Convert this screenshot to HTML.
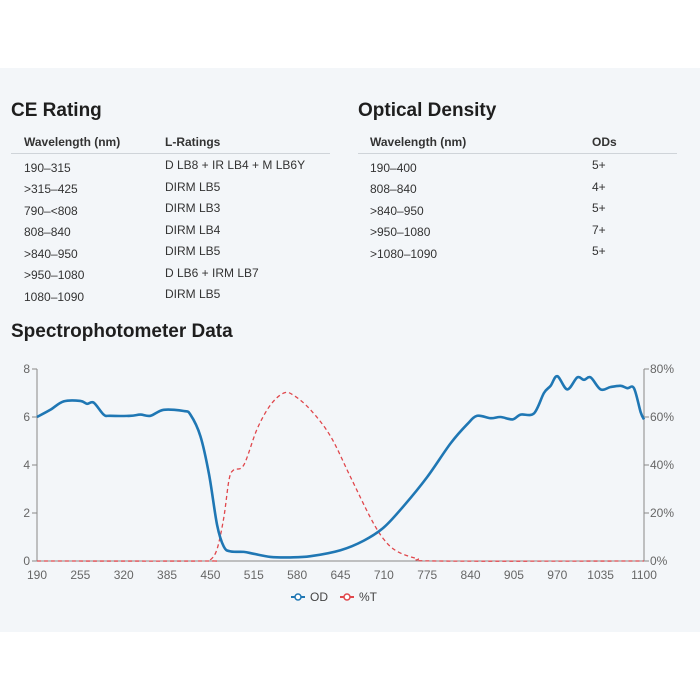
<!DOCTYPE html>
<html><head><meta charset="utf-8"><style>
body{margin:0;width:700px;height:700px;background:#fff;position:relative;overflow:hidden;font-family:"Liberation Sans",sans-serif;color:#222}
#bg{position:absolute;left:0;top:68px;width:700px;height:564px;background:#f3f6f9}
.t{position:absolute;white-space:nowrap}
h2{position:absolute;margin:0;font-size:19px;font-weight:bold;color:#1e1e1e;white-space:nowrap}
.h{font-size:12px;font-weight:bold;color:#333}
.r{font-size:12px;color:#333}
.ln{position:absolute;height:1px;background:#cfd4d9}
</style></head><body>
<div id="bg"></div>
<h2 style="left:11px;top:100px">CE Rating</h2>
<div class="t h" style="left:24px;top:135px">Wavelength (nm)</div>
<div class="t h" style="left:165px;top:135px">L-Ratings</div>
<div class="ln" style="left:11px;top:153px;width:319px"></div>
<div class="t r" style="left:24px;top:161px">190–315</div><div class="t r" style="left:165px;top:158px">D LB8 + IR LB4 + M LB6Y</div>
<div class="t r" style="left:24px;top:182px">&gt;315–425</div><div class="t r" style="left:165px;top:180px">DIRM LB5</div>
<div class="t r" style="left:24px;top:204px">790–&lt;808</div><div class="t r" style="left:165px;top:201px">DIRM LB3</div>
<div class="t r" style="left:24px;top:225px">808–840</div><div class="t r" style="left:165px;top:223px">DIRM LB4</div>
<div class="t r" style="left:24px;top:247px">&gt;840–950</div><div class="t r" style="left:165px;top:244px">DIRM LB5</div>
<div class="t r" style="left:24px;top:268px">&gt;950–1080</div><div class="t r" style="left:165px;top:266px">D LB6 + IRM LB7</div>
<div class="t r" style="left:24px;top:290px">1080–1090</div><div class="t r" style="left:165px;top:287px">DIRM LB5</div>

<h2 style="left:358px;top:100px">Optical Density</h2>
<div class="t h" style="left:370px;top:135px">Wavelength (nm)</div>
<div class="t h" style="left:592px;top:135px">ODs</div>
<div class="ln" style="left:358px;top:153px;width:319px"></div>
<div class="t r" style="left:370px;top:161px">190–400</div><div class="t r" style="left:592px;top:158px">5+</div>
<div class="t r" style="left:370px;top:182px">808–840</div><div class="t r" style="left:592px;top:180px">4+</div>
<div class="t r" style="left:370px;top:204px">&gt;840–950</div><div class="t r" style="left:592px;top:201px">5+</div>
<div class="t r" style="left:370px;top:225px">&gt;950–1080</div><div class="t r" style="left:592px;top:223px">7+</div>
<div class="t r" style="left:370px;top:247px">&gt;1080–1090</div><div class="t r" style="left:592px;top:244px">5+</div>

<h2 style="left:11px;top:321px">Spectrophotometer Data</h2>
<svg id="c" width="700" height="700" style="position:absolute;left:0;top:0" font-family="Liberation Sans, sans-serif" font-size="12" fill="#666"></svg>
<script>
const X=n=>37+(n-190)*607/910, Y=o=>561-24*o, YT=p=>561-2.4*p;
let s='';
s+='<line x1="37" y1="369" x2="37" y2="561" stroke="#888"/><line x1="644" y1="369" x2="644" y2="561" stroke="#888"/><line x1="37" y1="561" x2="644" y2="561" stroke="#888"/>';
for(let i=0;i<=4;i++){let y=561-48*i;s+=`<line x1="32" y1="${y}" x2="37" y2="${y}" stroke="#888"/><line x1="644" y1="${y}" x2="649" y2="${y}" stroke="#888"/><text x="30" y="${y+4}" text-anchor="end">${2*i}</text><text x="650" y="${y+4}">${20*i}%</text>`;}
for(let n=190;n<=1100;n+=65){let x=X(n);s+=`<text x="${x}" y="579" text-anchor="middle">${n}</text>`;}
function path(pts,fy){let p=pts.map(a=>[X(a[0]),fy(a[1])]);let d='M'+p[0][0]+','+p[0][1];
for(let i=0;i<p.length-1;i++){let p0=p[i-1]||p[i],p1=p[i],p2=p[i+1],p3=p[i+2]||p2;
d+=`C${p1[0]+(p2[0]-p0[0])/6},${p1[1]+(p2[1]-p0[1])/6} ${p2[0]-(p3[0]-p1[0])/6},${p2[1]-(p3[1]-p1[1])/6} ${p2[0]},${p2[1]}`;}return d;}
const od=[[190,6.0],[210,6.3],[230,6.65],[255,6.67],[265,6.55],[275,6.6],[290,6.1],[300,6.05],[330,6.05],[345,6.1],[360,6.05],[380,6.3],[410,6.25],[420,6.1],[435,5.2],[448,3.6],[460,1.5],[470,0.6],[480,0.4],[500,0.38],[515,0.3],[540,0.17],[570,0.15],[600,0.2],[645,0.45],[680,0.85],[710,1.4],[740,2.3],[775,3.5],[810,4.9],[835,5.7],[850,6.05],[870,5.95],[885,6.0],[903,5.9],[915,6.1],[935,6.15],[950,7.0],[960,7.3],[970,7.7],[985,7.15],[1000,7.65],[1010,7.55],[1020,7.65],[1035,7.15],[1050,7.25],[1065,7.3],[1075,7.2],[1085,7.2],[1095,6.2],[1100,5.9]];
const tr=[[190,0],[440,0],[450,0.5],[460,5],[470,18],[478,34],[485,38],[500,40],[520,55],[540,65],[560,70],[575,69],[600,63],[630,52],[660,35],[690,18],[710,9],[730,4],[760,1],[790,0],[1100,0]];
s+=`<path d="${path(tr,YT)}" fill="none" stroke="#e0474c" stroke-width="1.3" stroke-dasharray="4,3"/>`;
s+=`<path d="${path(od,Y)}" fill="none" stroke="#1f77b4" stroke-width="2.6"/>`;
s+='<line x1="291" y1="597" x2="305" y2="597" stroke="#1f77b4" stroke-width="2"/><circle cx="298" cy="597" r="3" fill="#fff" stroke="#1f77b4" stroke-width="1.5"/><text x="310" y="601" fill="#444">OD</text>';
s+='<line x1="340" y1="597" x2="354" y2="597" stroke="#e0474c" stroke-width="2"/><circle cx="347" cy="597" r="3" fill="#fff" stroke="#e0474c" stroke-width="1.5"/><text x="359" y="601" fill="#444">%T</text>';
document.getElementById('c').innerHTML=s;
</script>
</body></html>
